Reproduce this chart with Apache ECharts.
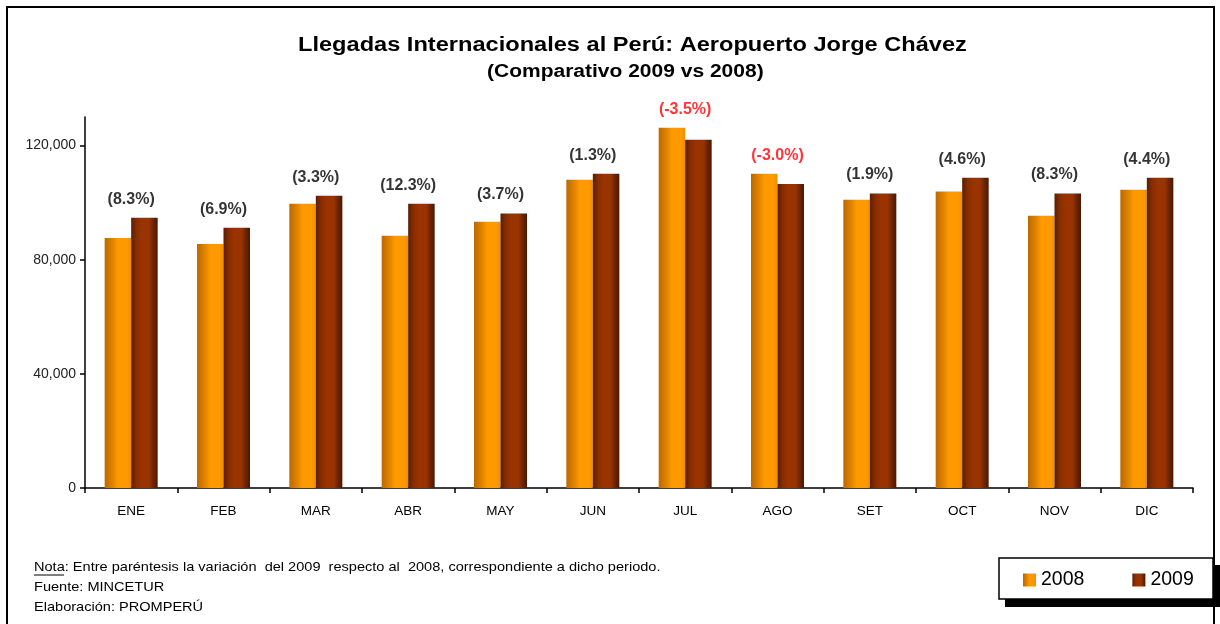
<!DOCTYPE html>
<html>
<head>
<meta charset="utf-8">
<script src="https://cdn.jsdelivr.net/npm/echarts@6/dist/echarts.min.js"></script>
<style>
html,body{margin:0;padding:0;background:#fff;}
#chart{width:1220px;height:624px;}
</style>
</head>
<body>
<div id="chart"></div>
<script>
const months = ['ENE','FEB','MAR','ABR','MAY','JUN','JUL','AGO','SET','OCT','NOV','DIC'];
const arrivals2008 = [87600, 85500, 99600, 88400, 93300, 108000, 126200, 110100, 101000, 103900, 95400, 104500];
const arrivals2009 = [94700, 91200, 102400, 99600, 96200, 110100, 122000, 106500, 103200, 108700, 103200, 108700];
const variation = ['(8.3%)','(6.9%)','(3.3%)','(12.3%)','(3.7%)','(1.3%)','(-3.5%)','(-3.0%)','(1.9%)','(4.6%)','(8.3%)','(4.4%)'];
const yTicks = [0, 40000, 80000, 120000];
const seriesNames = ['2008', '2009'];
const titleText = 'Llegadas Internacionales al Perú: Aeropuerto Jorge Chávez';
const subtitleText = '(Comparativo 2009 vs 2008)';
const notes = [
  'Nota: Entre paréntesis la variación  del 2009  respecto al  2008, correspondiente a dicho periodo.',
  'Fuente: MINCETUR',
  'Elaboración: PROMPERÚ'
];

const FONT = '"Liberation Sans", Arial, sans-serif';
const labelAnchor = months.map((m, i) => Math.max(arrivals2008[i], arrivals2009[i]));

const grad2008 = new echarts.graphic.LinearGradient(0, 0, 1, 0, [
  {offset: 0, color: '#bd6800'},
  {offset: 0.3, color: '#e08400'},
  {offset: 0.5, color: '#ff9900'},
  {offset: 0.85, color: '#ff9900'},
  {offset: 1, color: '#ee8e00'}
]);
const grad2009 = new echarts.graphic.LinearGradient(0, 0, 1, 0, [
  {offset: 0, color: '#5a1e00'},
  {offset: 0.2, color: '#882d00'},
  {offset: 0.4, color: '#993300'},
  {offset: 0.68, color: '#993300'},
  {offset: 0.85, color: '#6a2300'},
  {offset: 1, color: '#4a1800'}
]);

const chart = echarts.init(document.getElementById('chart'), null, {renderer: 'canvas'});
chart.setOption({
  animation: false,
  backgroundColor: '#fff',
  grid: {left: 85, right: 27, top: 117, bottom: 136, containLabel: false},
  legend: {
    data: seriesNames,
    left: 1023, top: 570,
    orient: 'horizontal',
    icon: 'rect',
    itemWidth: 13, itemHeight: 13, itemGap: 48,
    padding: 0,
    textStyle: {fontFamily: FONT, fontSize: 19.5, color: '#000'}
  },
  xAxis: {
    type: 'category',
    data: months,
    axisLine: {lineStyle: {color: '#000', width: 1.5}},
    axisTick: {show: true, length: 5, lineStyle: {color: '#000', width: 1.5}},
    axisLabel: {fontFamily: FONT, fontSize: 13.5, color: '#000', margin: 16}
  },
  yAxis: {
    type: 'value',
    min: 0, max: 130000, interval: 10000,
    axisLine: {show: true, lineStyle: {color: '#000', width: 1.5}},
    axisTick: {show: true, length: 5, customValues: yTicks, lineStyle: {color: '#000', width: 1.5}},
    axisLabel: {customValues: yTicks, fontFamily: FONT, fontSize: 14, color: '#222', margin: 9,
      formatter: v => v.toLocaleString('en-US')},
    splitLine: {show: false}
  },
  series: [
    {name: seriesNames[0], type: 'bar', data: arrivals2008, barWidth: 26.5, barGap: '0%',
     itemStyle: {color: grad2008}},
    {name: seriesNames[1], type: 'bar', data: arrivals2009, barWidth: 26.5, barGap: '0%',
     itemStyle: {color: grad2009}},
    {name: 'variación', type: 'scatter', symbolSize: 1, silent: true,
     itemStyle: {color: 'rgba(0,0,0,0)'},
     data: labelAnchor.map((v, i) => ({value: v, label: {color: variation[i].indexOf('-') >= 0 ? '#ff0000' : '#000000'}})),
     label: {show: true, position: 'top', distance: 10, color: '#000000',
       fontFamily: FONT, fontSize: 16, fontWeight: 'bold',
       formatter: p => variation[p.dataIndex]},
     labelLayout: {hideOverlap: false}
    }
  ],
  graphic: [
    {type: 'rect', shape: {x: 7, y: 7, width: 1207, height: 640}, silent: true, z: -1,
     style: {fill: 'none', stroke: '#000', lineWidth: 2}},
    {type: 'text', x: 298, y: 45, scaleX: 1.18, originX: 0, originY: 0,
     style: {text: titleText, font: 'bold 20px ' + FONT, fill: '#000', textVerticalAlign: 'middle'}},
    {type: 'text', x: 487, y: 72, scaleX: 1.2, originX: 0, originY: 0,
     style: {text: subtitleText, font: 'bold 17.5px ' + FONT, fill: '#000', textVerticalAlign: 'middle'}},
    {type: 'text', x: 34, y: 567, scaleX: 1.12,
     style: {text: notes[0], font: '13px ' + FONT, fill: '#000', textVerticalAlign: 'middle'}},
    {type: 'line', shape: {x1: 34, y1: 575, x2: 64, y2: 575}, style: {stroke: '#000', lineWidth: 1}},
    {type: 'text', x: 34, y: 587, scaleX: 1.12,
     style: {text: notes[1], font: '13px ' + FONT, fill: '#000', textVerticalAlign: 'middle'}},
    {type: 'text', x: 34, y: 607, scaleX: 1.12,
     style: {text: notes[2], font: '13px ' + FONT, fill: '#000', textVerticalAlign: 'middle'}},
    {type: 'rect', shape: {x: 1005, y: 565, width: 215, height: 42}, silent: true, z: 0,
     style: {fill: '#000'}},
    {type: 'rect', shape: {x: 999, y: 558, width: 214, height: 41}, silent: true, z: 0,
     style: {fill: '#fff', stroke: '#000', lineWidth: 1.5}}
  ]
});
</script>
</body>
</html>
